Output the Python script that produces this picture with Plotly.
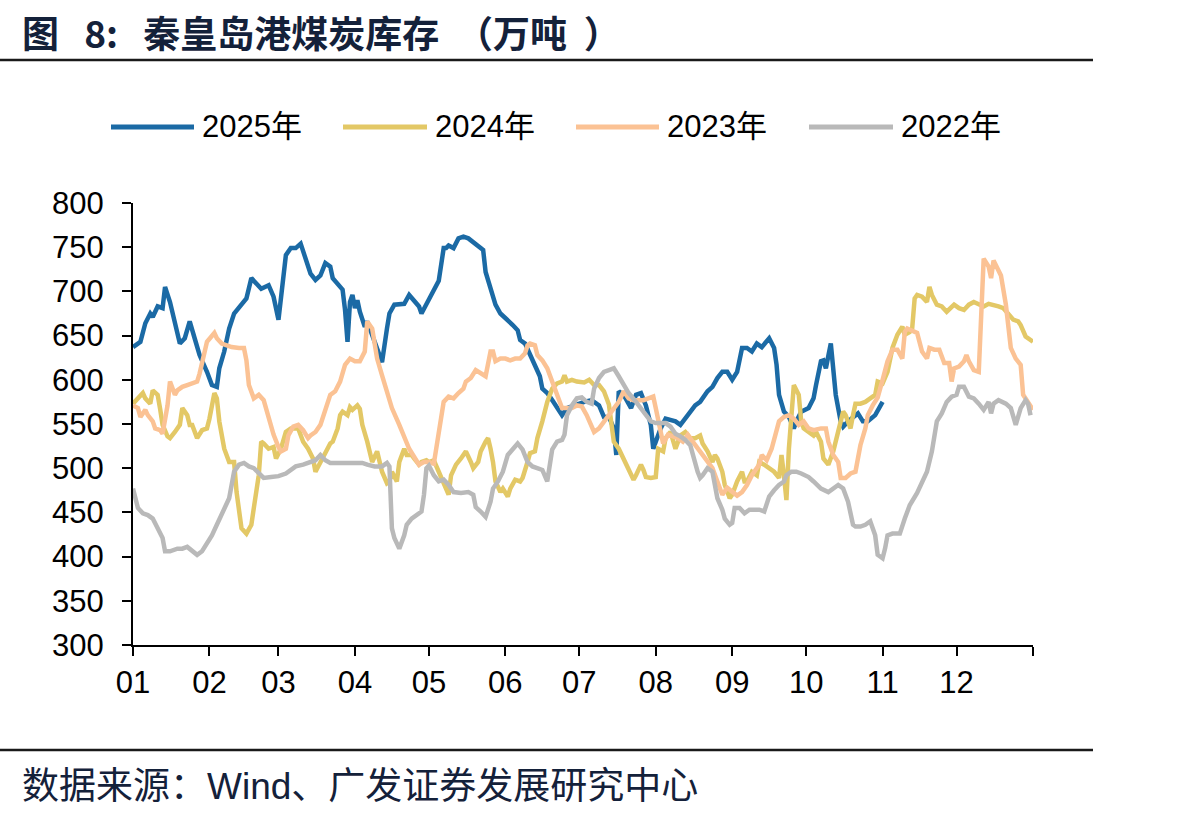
import plotly.graph_objects as go

# ---------------- data (day of year, 0 = Jan 1) ----------------
days_2025 = [0,3,5,7,8,10,12,13,15,17,19,21,23,25,27,30,32,34,35,37,39,41,44,46,48,50,52,55,57,59,61,62,64,66,68,70,72,74,76,78,80,81,83,85,86,87,88,89,90,91,92,94,95,97,99,101,103,104,106,108,110,112,114,116,117,119,121,124,126,127,128,130,132,134,136,138,140,142,143,145,147,149,152,154,156,157,159,161,163,165,166,168,170,172,174,176,179,182,183,186,189,191,193,195,196,197,199,202,204,206,208,210,211,212,214,216,218,220,222,224,226,228,230,233,235,237,239,241,243,245,247,249,251,253,255,256,258,260,261,262,264,266,268,269,271,274,276,277,279,280,281,283,284,285,287,288,290,292,294,296,298,301,304]
vals_2025 = [637,643,664,675,671,683,681,705,688,662,641,647,666,647,628,609,594,592,613,632,658,675,685,692,715,709,703,707,694,668,711,741,749,749,754,737,720,713,718,732,728,715,709,702,679,643,688,696,681,690,677,660,666,651,636,620,658,675,685,685,686,696,690,683,675,686,698,712,749,749,752,749,760,762,760,756,752,747,722,703,685,675,668,662,656,645,641,628,617,604,590,585,577,568,560,568,571,575,575,577,571,558,558,545,515,587,583,568,583,585,571,549,522,530,545,556,555,553,549,556,564,571,575,587,592,602,609,609,600,609,636,636,632,641,637,641,647,636,617,583,564,558,545,553,564,568,579,594,621,622,613,641,617,583,553,547,553,558,562,553,553,560,575]

days_2024 = [0,2,4,5,7,8,10,11,12,14,15,17,19,20,22,23,24,26,28,30,31,33,34,35,37,39,41,42,44,46,48,49,51,52,53,55,57,58,60,62,64,67,69,71,73,74,76,78,80,81,83,84,85,87,88,89,91,92,93,95,96,97,99,100,101,103,104,105,107,108,110,111,113,114,116,117,119,120,122,124,126,127,128,129,131,133,135,137,138,140,141,143,144,145,146,147,149,150,152,153,155,157,158,160,161,163,164,166,168,170,172,174,175,176,178,180,183,185,187,189,191,193,194,195,197,199,201,203,204,206,207,208,210,212,213,215,216,218,220,222,224,226,228,230,231,233,235,236,237,239,240,242,243,245,247,248,249,251,253,254,256,258,260,262,263,264,265,266,267,268,270,271,272,274,276,277,279,280,282,284,285,287,288,289,291,292,293,295,297,299,301,302,304,306,308,310,312,313,315,316,317,318,320,322,323,324,326,328,330,333,335,337,339,341,343,345,347,349,351,353,355,357,359,360,362,364,365]
vals_2024 = [573,579,585,579,573,588,583,567,549,536,534,541,549,568,560,549,549,534,543,545,556,585,579,553,522,507,507,473,432,426,436,455,492,530,528,522,524,511,522,541,545,545,530,522,511,496,507,519,528,530,545,560,564,560,569,566,571,567,549,530,519,507,519,507,496,483,485,496,485,507,522,515,515,511,504,507,509,507,509,496,483,477,470,492,504,511,519,507,500,507,519,530,534,522,507,485,473,477,468,477,487,485,489,507,517,519,534,553,575,590,596,598,605,598,600,598,597,600,594,594,587,572,553,530,522,511,500,487,492,504,498,490,489,490,522,519,534,541,522,537,541,534,534,537,528,519,507,515,511,496,481,466,470,485,496,485,485,496,492,507,504,500,496,489,515,492,464,522,564,594,583,553,545,541,537,541,530,511,504,519,530,553,564,560,545,560,573,573,575,579,583,598,596,609,636,651,660,651,654,658,692,696,694,688,705,696,685,683,677,685,681,679,685,688,686,683,686,685,683,681,675,668,666,662,649,645,643]

days_2023 = [0,2,3,5,6,8,9,11,12,14,15,16,17,18,20,22,24,26,27,29,30,33,34,36,38,40,43,45,46,47,49,51,53,55,57,59,60,62,63,65,67,69,71,72,74,76,78,80,82,84,86,88,90,92,94,95,97,98,99,101,103,105,108,110,112,114,116,118,120,122,124,126,128,130,132,134,135,137,139,141,143,145,146,147,149,151,153,155,157,159,160,161,163,164,166,168,170,171,172,174,176,178,180,182,184,187,189,191,193,195,197,199,201,203,205,207,209,211,212,214,215,217,219,221,223,225,227,229,231,233,235,237,239,241,243,245,247,249,251,254,255,257,259,261,262,264,266,268,270,272,274,276,279,281,282,284,286,287,289,291,293,294,295,297,298,300,302,304,306,308,310,312,313,314,316,318,320,322,323,325,327,329,331,332,333,335,337,338,339,341,343,344,345,347,348,349,351,352,354,355,356,358,360,361,362,364,365]
vals_2023 = [571,568,558,566,560,553,545,543,539,571,598,590,583,588,592,594,596,598,607,628,643,653,647,641,639,637,636,636,622,594,579,583,577,556,538,524,519,522,537,547,549,543,534,537,541,549,568,583,587,598,617,624,621,621,632,666,658,639,624,605,587,568,549,534,522,513,504,507,507,505,538,575,581,579,585,590,598,602,611,607,604,632,632,621,624,624,622,624,624,630,639,641,639,628,622,613,598,590,583,568,568,568,571,570,560,541,545,553,560,568,575,587,579,577,577,577,579,581,568,538,528,538,536,534,530,538,530,522,515,507,500,485,470,478,473,469,473,481,492,504,515,509,522,545,553,558,560,556,549,553,545,543,545,545,530,515,507,489,489,494,496,511,526,545,560,571,580,600,621,634,634,624,654,658,656,653,632,624,636,634,634,619,619,598,613,615,621,628,621,611,609,677,737,728,715,735,722,718,685,654,636,624,617,583,579,571,566]

days_2022 = [0,2,4,6,8,10,12,13,15,18,20,22,24,26,28,30,32,34,36,38,39,41,43,45,47,49,51,53,56,59,62,64,66,69,72,74,76,78,80,83,86,89,91,93,95,98,101,103,104,105,106,108,110,111,113,115,117,118,119,120,122,124,126,128,130,133,136,138,139,141,143,145,146,148,150,152,154,156,158,160,162,164,166,168,169,170,172,174,175,176,178,180,182,184,186,187,189,191,193,195,197,199,201,204,206,208,210,212,214,216,218,220,222,224,226,227,229,230,231,233,235,236,237,239,240,242,243,244,246,248,250,252,254,256,258,260,262,264,265,267,269,271,274,276,279,282,284,286,288,290,292,293,295,297,299,301,302,304,305,306,308,311,313,315,318,320,322,324,326,328,330,332,334,335,337,339,341,343,345,347,348,349,351,354,356,358,359,360,362,363,364]
vals_2022 = [477,455,449,447,443,432,421,406,406,409,409,411,407,402,406,415,424,436,447,458,466,496,504,506,502,500,494,489,490,491,494,498,502,504,507,509,515,509,506,506,506,506,507,506,504,502,502,506,502,432,421,409,424,436,443,447,451,470,500,503,492,485,487,481,473,472,473,470,456,451,445,462,477,485,496,515,522,528,521,507,502,500,498,485,507,521,530,532,538,560,571,579,580,575,573,590,602,609,611,613,604,594,585,575,568,560,553,551,551,551,547,539,536,532,526,515,496,489,492,500,496,481,466,453,443,436,438,455,455,449,453,453,453,451,468,475,481,485,492,496,496,494,490,485,477,473,477,481,477,462,436,434,434,436,440,424,402,398,409,424,426,426,443,458,472,485,496,519,553,562,575,581,583,592,592,581,579,573,566,575,562,573,577,573,568,549,558,568,577,573,560]

series_names = ["2025年", "2024年", "2023年", "2022年"]
series_colors = ["#1b6aa5", "#e3c866", "#fbc294", "#b9b9b9"]
month_starts = [0, 31, 59, 90, 120, 151, 181, 212, 243, 273, 304, 334, 365]
month_labels = ["01", "02", "03", "04", "05", "06", "07", "08", "09", "10", "11", "12", ""]

# ---------------- layout geometry (pixels) ----------------
W, H = 1181, 820
L, R, T, B = 133, 1033, 203, 645


def px2x(px):
    return (px - L) / (R - L)


def py2y(py):
    return (B - py) / (B - T)


fig = go.Figure()
all_days = [days_2025, days_2024, days_2023, days_2022]
all_vals = [vals_2025, vals_2024, vals_2023, vals_2022]
for i in range(4):
    fig.add_trace(go.Scatter(
        x=all_days[i], y=all_vals[i], mode="lines", name=series_names[i],
        line=dict(color=series_colors[i], width=4.5), showlegend=False,
        hoverinfo="skip"))

tick_font = dict(family="Liberation Sans, Arial, sans-serif", size=31, color="#000000")
fig.update_xaxes(range=[0, 365], tickmode="array", tickvals=month_starts,
                 ticktext=month_labels, showgrid=False, zeroline=False,
                 showline=True, linecolor="#000000", linewidth=2,
                 ticks="outside", ticklen=9, tickwidth=2, tickcolor="#000000",
                 tickfont=tick_font)
fig.update_yaxes(range=[300, 800], tickvals=list(range(300, 801, 50)),
                 showgrid=False, zeroline=False,
                 showline=True, linecolor="#000000", linewidth=2,
                 ticks="outside", ticklen=9, tickwidth=2, tickcolor="#000000",
                 tickfont=tick_font, ticklabelstandoff=12)

shapes = []
annotations = []
line_col = "#1a1a1a"
# rule under title and above source
shapes.append(dict(type="line", xref="paper", yref="paper", x0=px2x(0), x1=px2x(1093),
                   y0=py2y(60), y1=py2y(60), line=dict(color=line_col, width=2.5)))
shapes.append(dict(type="line", xref="paper", yref="paper", x0=px2x(0), x1=px2x(1093),
                   y0=py2y(750), y1=py2y(750), line=dict(color=line_col, width=2.5)))

# title
sp = "&nbsp;"
annotations.append(dict(text="<b>图" + sp * 3 + "8:" + sp * 3 + "秦皇岛港煤炭库存" + sp * 2 + "（万吨"
                             + sp * 2 + "）</b>",
                        xref="paper", yref="paper",
                        x=px2x(20), y=py2y(32), xanchor="left", yanchor="middle",
                        showarrow=False,
                        font=dict(family="Noto Sans CJK SC, sans-serif", size=37, color="#14213a")))
# source
annotations.append(dict(text="数据来源：Wind、广发证券发展研究中心", xref="paper", yref="paper",
                        x=px2x(20), y=py2y(786), xanchor="left", yanchor="middle",
                        showarrow=False,
                        font=dict(family="Liberation Sans, Noto Sans CJK SC, sans-serif", size=37, color="#14213a")))

# manual legend
leg_y = py2y(127)
leg_line_x = [(111, 194), (343, 427), (576, 659), (809, 893)]
for i in range(4):
    x0, x1 = leg_line_x[i]
    shapes.append(dict(type="line", xref="paper", yref="paper", x0=px2x(x0), x1=px2x(x1),
                       y0=leg_y, y1=leg_y, line=dict(color=series_colors[i], width=5)))
    annotations.append(dict(text=series_names[i], xref="paper", yref="paper",
                            x=px2x(x1 + 6), y=leg_y, xanchor="left", yanchor="middle",
                            showarrow=False,
                            font=dict(family="Liberation Sans, Noto Sans CJK SC, sans-serif", size=31, color="#000000")))

fig.update_layout(width=W, height=H, margin=dict(l=L, r=W - R, t=T, b=H - B),
                  paper_bgcolor="white", plot_bgcolor="white",
                  shapes=shapes, annotations=annotations, showlegend=False)

fig.write_html("out.html")
